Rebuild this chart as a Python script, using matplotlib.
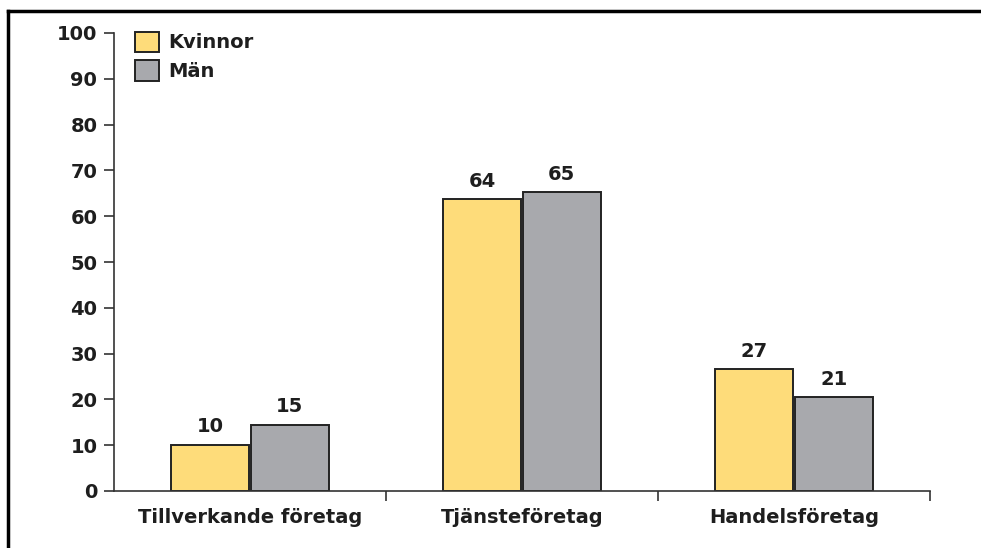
import numpy as np
import matplotlib.pyplot as plt
from matplotlib.lines import Line2D
from matplotlib.patches import Patch

# data
categories = ['Tillverkande företag', 'Tjänsteföretag', 'Handelsföretag']
kvinnor = [10.1, 63.7, 26.6]
man = [14.5, 65.2, 20.5]
kvinnor_labels = ['10', '64', '27']
man_labels = ['15', '65', '21']
yticks = [0, 10, 20, 30, 40, 50, 60, 70, 80, 90, 100]

yellow = '#fedc7a'
grey = '#a8a9ad'
edge = '#222222'
txt = '#1e1e1e'
fs = 14

plt.rcParams['font.family'] = ['DejaVu Sans']

fig = plt.figure(figsize=(9.81, 5.48), dpi=100)
ax = fig.add_axes([114 / 981, 57 / 548, (930 - 114) / 981, (491 - 33) / 548])

x = np.arange(len(categories))
w = 0.287
b1 = ax.bar(x - 0.146, kvinnor, w, color=yellow, edgecolor=edge, linewidth=1.4)
b2 = ax.bar(x + 0.146, man, w, color=grey, edgecolor=edge, linewidth=1.4)

for rect, lab in zip(list(b1) + list(b2), kvinnor_labels + man_labels):
    ax.annotate(lab, (rect.get_x() + rect.get_width() / 2, rect.get_height()),
                xytext=(0, 6), textcoords='offset points', ha='center', va='bottom',
                fontsize=fs, fontweight='semibold', color=txt)

ax.set_xlim(-0.5, 2.5)
ax.set_ylim(0, 100)
ax.set_yticks(yticks)
ax.set_yticklabels([str(t) for t in yticks], fontsize=fs, fontweight='semibold', color=txt)
ax.tick_params(axis='y', direction='out', length=7, width=1.2, color='#333333', pad=5)

# boundaries get tick marks, labels sit in the middle
ax.set_xticks([0.5, 1.5, 2.5])
ax.set_xticklabels([])
ax.tick_params(axis='x', which='major', direction='out', length=7, width=1.2, color='#333333')
ax.set_xticks(x, minor=True)
ax.set_xticklabels(categories, minor=True, fontsize=fs, fontweight='semibold', color=txt)
ax.tick_params(axis='x', which='minor', length=0, pad=12)

for s in ['top', 'right']:
    ax.spines[s].set_visible(False)
for s in ['left', 'bottom']:
    ax.spines[s].set_linewidth(1.2)
    ax.spines[s].set_color('#333333')

handles = [Patch(facecolor=yellow, edgecolor=edge, linewidth=1.4, label='Kvinnor'),
           Patch(facecolor=grey, edgecolor=edge, linewidth=1.4, label='Män')]
leg = ax.legend(handles=handles, loc='upper left', bbox_to_anchor=(0.016, 1.02),
                frameon=False, fontsize=fs, handlelength=1.25, handleheight=1.25,
                handletextpad=0.45, labelspacing=0.4, borderaxespad=0)
for t in leg.get_texts():
    t.set_fontweight('semibold')
    t.set_color(txt)

# outer frame (only left and top edges visible)
fig.add_artist(Line2D([7.5 / 981, 7.5 / 981], [0, 1 - 10.5 / 548], transform=fig.transFigure,
                      color='black', linewidth=2.5, solid_capstyle='projecting'))
fig.add_artist(Line2D([7.5 / 981, 1], [1 - 10.5 / 548, 1 - 10.5 / 548], transform=fig.transFigure,
                      color='black', linewidth=2.5, solid_capstyle='projecting'))

fig.savefig('out.png', dpi=100)
